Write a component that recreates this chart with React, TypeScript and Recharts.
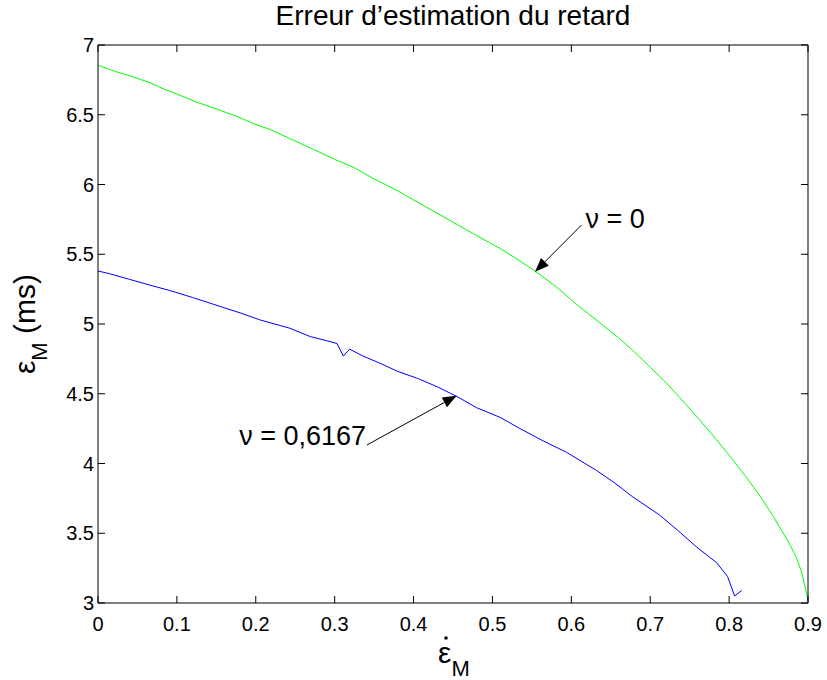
import { LineChart, Line, XAxis, YAxis, ReferenceLine } from 'recharts';

// green curve, nu = 0
const greenX = [
  0, 0.022, 0.04, 0.066, 0.085, 0.104, 0.125, 0.151, 0.175, 0.2, 0.22, 0.243, 0.27, 0.3,
  0.325, 0.35, 0.375, 0.4, 0.425, 0.45, 0.475, 0.51, 0.53, 0.554, 0.58, 0.611, 0.636,
  0.66, 0.68, 0.7, 0.72, 0.738, 0.76, 0.784, 0.8, 0.822, 0.84, 0.856, 0.875, 0.885, 0.892, 0.9,
];
const greenY = [
  6.855, 6.81, 6.78, 6.73, 6.68, 6.64, 6.59, 6.54, 6.49, 6.43, 6.39, 6.33, 6.26, 6.18,
  6.12, 6.04, 5.97, 5.89, 5.81, 5.73, 5.65, 5.54, 5.47, 5.38, 5.27, 5.12, 5.01,
  4.9, 4.8, 4.69, 4.58, 4.47, 4.33, 4.17, 4.06, 3.9, 3.76, 3.62, 3.44, 3.33, 3.22, 3.02,
];

// blue curve, nu = 0,6167
const blueX = [
  0, 0.015, 0.04, 0.065, 0.091, 0.12, 0.158, 0.18, 0.205, 0.243, 0.269, 0.29, 0.303, 0.311,
  0.319, 0.336, 0.357, 0.38, 0.405, 0.43, 0.455, 0.48, 0.51, 0.535, 0.565, 0.594, 0.632,
  0.655, 0.678, 0.712, 0.735, 0.759, 0.784, 0.798, 0.807, 0.816,
];
const blueY = [
  5.38, 5.36, 5.32, 5.28, 5.24, 5.19, 5.12, 5.08, 5.03, 4.97, 4.91, 4.88, 4.86, 4.77,
  4.82, 4.77, 4.72, 4.66, 4.61, 4.55, 4.48, 4.4, 4.33, 4.25, 4.16, 4.08, 3.95,
  3.86, 3.76, 3.63, 3.52, 3.4, 3.29, 3.19, 3.05, 3.09,
];

const xTicks = [0, 0.1, 0.2, 0.3, 0.4, 0.5, 0.6, 0.7, 0.8, 0.9];
const yTicks = [3, 3.5, 4, 4.5, 5, 5.5, 6, 6.5, 7];

const greenData = greenX.map((x, i) => ({ x, y: greenY[i] }));
const blueData = blueX.map((x, i) => ({ x, y: blueY[i] }));

const FONT = '"Liberation Sans", Arial, Helvetica, sans-serif';

const blank = () => '';

function arrowShape(text: string, side: 'start' | 'end') {
  return (props: any) => {
    const { x1, y1, x2, y2 } = props;
    const ang = Math.atan2(y2 - y1, x2 - x1);
    const len = 14;
    const hw = 5.5;
    const bx = x2 - len * Math.cos(ang);
    const by = y2 - len * Math.sin(ang);
    const px = -Math.sin(ang) * hw;
    const py = Math.cos(ang) * hw;
    return (
      <g>
        <line x1={x1} y1={y1} x2={bx} y2={by} stroke="#000" strokeWidth={1} />
        <polygon points={`${x2},${y2} ${bx + px},${by + py} ${bx - px},${by - py}`} fill="#000" />
        <text
          x={side === 'start' ? x1 + 4 : x1 - 1}
          y={side === 'start' ? y1 + 3 : y1}
          textAnchor={side}
          fontSize={27}
          fontFamily={FONT}
          fill="#000"
        >
          {text}
        </text>
      </g>
    );
  };
}

const TitleLabel = (p: any) => {
  const vb = p.viewBox ?? { x: 98, y: 44, width: 710 };
  return (
    <text x={vb.x + vb.width / 2} y={vb.y - 19} textAnchor="middle" fontSize={28} fontFamily={FONT} fill="#000">
      Erreur d’estimation du retard
    </text>
  );
};

const XLabel = (p: any) => {
  const vb = p.viewBox ?? { x: 98, y: 603, width: 710 };
  const cx = vb.x + vb.width / 2;
  const base = vb.y + 60;
  return (
    <g>
      <circle cx={cx - 7} cy={base - 25} r={1.8} fill="#000" />
      <text x={cx - 15} y={base} textAnchor="start" fontFamily={FONT} fill="#000">
        <tspan fontSize={30}>ε</tspan>
        <tspan fontSize={22} dy={13}>M</tspan>
      </text>
    </g>
  );
};

const YLabel = () => {
  const cx = 35;
  const cy = 324;
  return (
    <text x={cx} y={cy} transform={`rotate(-90, ${cx}, ${cy})`} textAnchor="middle" fontFamily={FONT} fill="#000">
      <tspan fontSize={30}>ε</tspan>
      <tspan fontSize={22} dy={12}>M</tspan>
      <tspan fontSize={30} dy={-12}> (ms)</tspan>
    </text>
  );
};

export default function App() {
  return (
    <div style={{ position: 'absolute', left: 0, top: 0, background: '#fff' }}>
      <LineChart width={827} height={680} margin={{ top: 44, right: 18, bottom: 47, left: 38 }}>
        <XAxis
          dataKey="x"
          type="number"
          domain={[0, 0.9]}
          ticks={xTicks}
          height={30}
          tickSize={-7}
          tickMargin={21}
          stroke="#000"
          tick={{ fill: '#000', fontSize: 20, fontFamily: FONT }}
          label={XLabel}
        />
        <XAxis
          xAxisId="top"
          orientation="top"
          dataKey="x"
          type="number"
          domain={[0, 0.9]}
          ticks={xTicks}
          height={1}
          tickSize={-7}
          stroke="#000"
          tickFormatter={blank}
          label={TitleLabel}
        />
        <YAxis
          type="number"
          domain={[3, 7]}
          ticks={yTicks}
          width={60}
          tickSize={-7}
          tickMargin={11}
          stroke="#000"
          tick={{ fill: '#000', fontSize: 20, fontFamily: FONT }}
          label={YLabel}
        />
        <YAxis
          yAxisId="right"
          orientation="right"
          type="number"
          domain={[3, 7]}
          ticks={yTicks}
          width={1}
          tickSize={-7}
          stroke="#000"
          tickFormatter={blank}
        />
        <Line
          data={greenData}
          dataKey="y"
          type="linear"
          stroke="#00ff00"
          strokeWidth={1}
          dot={false}
          isAnimationActive={false}
        />
        <Line
          data={blueData}
          dataKey="y"
          xAxisId="top"
          yAxisId="right"
          type="linear"
          stroke="#0000ff"
          strokeWidth={1}
          dot={false}
          isAnimationActive={false}
        />
        <ReferenceLine
          segment={[{ x: 0.613, y: 5.71 }, { x: 0.554, y: 5.375 }]}
          shape={arrowShape('ν = 0', 'start')}
        />
        <ReferenceLine
          segment={[{ x: 0.341, y: 4.133 }, { x: 0.4546, y: 4.486 }]}
          shape={arrowShape('ν = 0,6167', 'end')}
        />
      </LineChart>
    </div>
  );
}
